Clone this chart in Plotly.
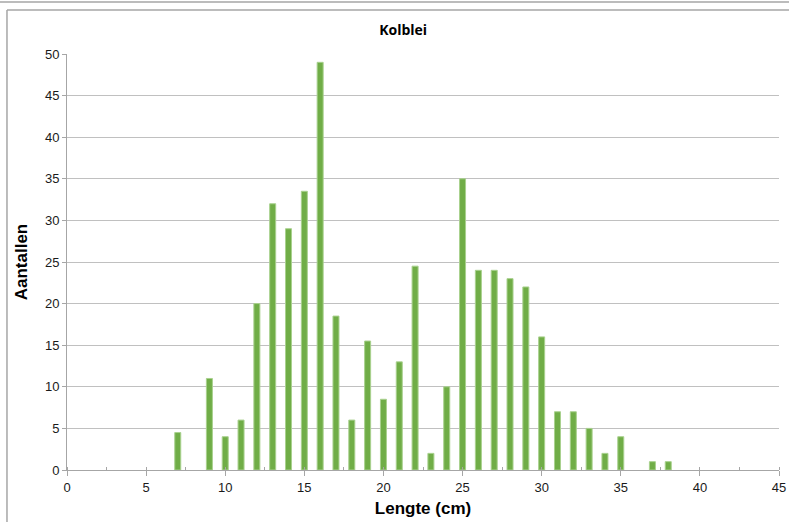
import plotly.graph_objects as go

lengths = [7, 9, 10, 11, 12, 13, 14, 15, 16, 17, 18, 19, 20, 21, 22, 23, 24, 25,
           26, 27, 28, 29, 30, 31, 32, 33, 34, 35, 37, 38]
counts = [4.5, 11, 4, 6, 20, 32, 29, 33.5, 49, 18.5, 6, 15.5, 8.5, 13, 24.5, 2, 10, 35,
          24, 24, 23, 22, 16, 7, 7, 5, 2, 4, 1, 1]

title_text = "Kolblei"
x_title = "Lengte (cm)"
y_title = "Aantallen"

fig = go.Figure(go.Bar(
    x=lengths, y=counts, width=0.38,
    marker=dict(color="#70AD47", line=dict(color="#A9D18E", width=1)),
))

fig.update_layout(
    width=789, height=522,
    margin=dict(l=67, r=10, t=54, b=52),
    paper_bgcolor="white", plot_bgcolor="white",
    showlegend=False,
    title=dict(text="<b>" + title_text + "</b>", x=0.511, xanchor="center", y=0.9425, yanchor="middle",
               font=dict(family="Open Sans, Liberation Sans, Arial", size=14, color="black")),
    font=dict(family="Liberation Sans, Arial", size=13, color="#1a1a1a"),
    xaxis=dict(range=[0, 45], tickmode="linear", tick0=0, dtick=5, automargin=False,
               showgrid=False, zeroline=False, showline=True, linecolor="#A6A6A6", linewidth=1,
               ticks="outside", ticklen=5, tickcolor="#A6A6A6",
               minor=dict(dtick=2.5, tick0=0, ticks="inside", ticklen=3, tickcolor="#A6A6A6", showgrid=False),
               title=dict(text="<b>" + x_title + "</b>", font=dict(size=17, color="black"), standoff=8)),
    yaxis=dict(range=[0, 50], tickmode="linear", tick0=0, dtick=5, automargin=False,
               showgrid=True, gridcolor="#C0C0C0", gridwidth=1, zeroline=False,
               showline=True, linecolor="#A6A6A6", linewidth=1,
               ticks="outside", ticklen=4, tickcolor="#A6A6A6",
               title=dict(text="<b>" + y_title + "</b>", font=dict(size=17, color="black"), standoff=12)),
    shapes=[
        dict(type="line", xref="paper", yref="paper", x0=-0.1, x1=1.02, y0=1.125, y1=1.125,
             line=dict(color="#A6A6A6", width=1.5)),
        dict(type="line", xref="paper", yref="paper", x0=-0.0843, x1=1.02, y0=1.106, y1=1.106,
             line=dict(color="#A6A6A6", width=1.5)),
        dict(type="line", xref="paper", yref="paper", x0=-0.0843, x1=-0.0843, y0=1.106, y1=-0.2,
             line=dict(color="#A6A6A6", width=1.5)),
    ],
)

fig.write_html("out.html", config={"displayModeBar": False},
               post_script="document.body.style.margin='0px';document.body.style.overflow='hidden';")
